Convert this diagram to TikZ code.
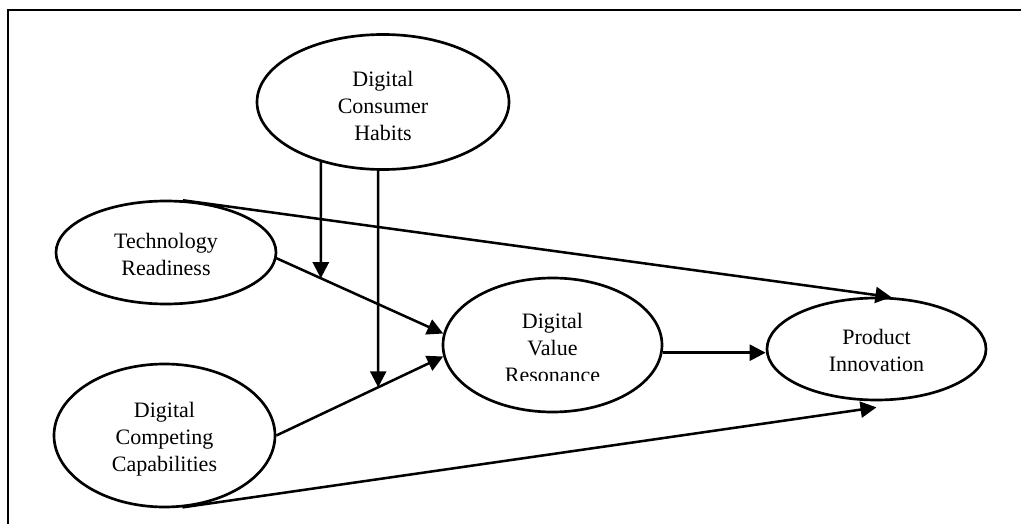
\documentclass[tikz,border=0pt]{standalone}
\usepackage{fontspec}
\setmainfont{Liberation Serif}
\usetikzlibrary{shapes.geometric,arrows.meta}
\tikzset{
  ell/.style={draw, ellipse, line width=2pt, inner sep=0pt},
  lbl/.style={align=center, inner sep=0pt, font=\fontsize{16.5}{20.25}\selectfont},
  conn/.style={line width=1.9pt, -{Triangle[length=12pt,width=12pt]}},
  frame/.style={line width=2pt}
}
\begin{document}
\begin{tikzpicture}[x=0.75pt,y=-0.75pt]
\useasboundingbox (0,0) rectangle (1021,524);
% frame
\coordinate (fr1) at (1021,10);
\coordinate (fr2) at (8,10);
\coordinate (fr3) at (8,524);
\draw[frame] (fr1) -- (fr2) -- (fr3);
% ellipses
\node[ell, minimum width=189pt, minimum height=101.25pt] (dch) at (383,102) {};
\node[ell, minimum width=165pt, minimum height=77.25pt] (tr) at (166,252.5) {};
\node[ell, minimum width=165.75pt, minimum height=107.25pt] (dcc) at (164.5,435.5) {};
\node[ell, minimum width=164.25pt, minimum height=100.5pt] (dvr) at (552.5,345) {};
\node[ell, minimum width=164.25pt, minimum height=76.5pt] (pi) at (876.5,349) {};
% labels
\node[lbl] (dchT) at (383,106) {Digital\\Consumer\\Habits};
\node[lbl] (trT) at (166,254) {Technology\\Readiness};
\node[lbl] (dccT) at (164.5,439.5) {Digital\\Competing\\Capabilities};
\begin{scope}
\clip (440,290) rectangle (665,380);
\node[lbl] (dvrT) at (552.5,348) {Digital\\Value\\Resonance};
\end{scope}
\node[lbl] (piT) at (876.5,350) {Product\\Innovation};
% helper coordinates
\coordinate (a1) at (tr.-3);
\coordinate (b1) at (dvr.174);
\coordinate (a2) at (dcc.east);
\coordinate (b2) at (dvr.186);
\coordinate (c1) at (dch.-136);
\coordinate (d1) at ([yshift=-150pt]dch.-136);
\coordinate (c2) at (dch.-94);
\coordinate (d2) at ([yshift=-250pt]dch.-94);
\coordinate (m1) at (intersection of a1--b1 and c1--d1);
\coordinate (m2) at (intersection of a2--b2 and c2--d2);
% connectors
\draw[conn] (tr.-3) -- (dvr.174);
\draw[conn] (dcc.east) -- (dvr.186);
\draw[conn] (dch.-136) -- (m1);
\draw[conn] (dch.-94) -- (m2);
\draw[conn] (dvr.-4) -- (dvr.-4 -| pi.west);
\draw[conn] (tr.72) -- (pi.74);
\draw[conn] (dcc.-76) -- ([yshift=-4.5pt]pi.south);
\end{tikzpicture}
\end{document}
